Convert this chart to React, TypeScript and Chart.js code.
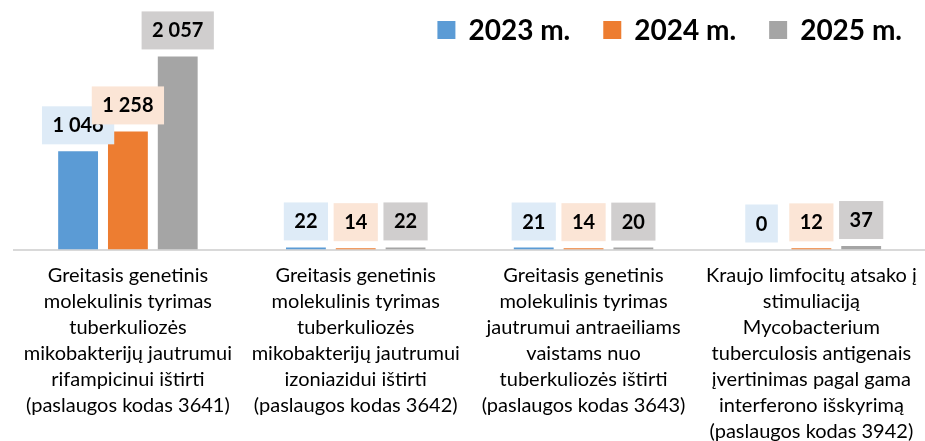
import React, { useEffect, useRef } from "react";
import { Chart, registerables } from "chart.js";

Chart.register(...registerables);

const categories: string[][] = [
  ["Greitasis genetinis", "molekulinis tyrimas", "tuberkuliozės", "mikobakterijų jautrumui", "rifampicinui ištirti", "(paslaugos kodas 3641)"],
  ["Greitasis genetinis", "molekulinis tyrimas", "tuberkuliozės", "mikobakterijų jautrumui", "izoniazidui ištirti", "(paslaugos kodas 3642)"],
  ["Greitasis genetinis", "molekulinis tyrimas", "jautrumui antraeiliams", "vaistams nuo", "tuberkuliozės ištirti", "(paslaugos kodas 3643)"],
  ["Kraujo limfocitų atsako į", "stimuliaciją", "Mycobacterium", "tuberculosis antigenais", "įvertinimas pagal gama", "interferono išskyrimą", "(paslaugos kodas 3942)"],
];

const seriesNames = ["2023 m.", "2024 m.", "2025 m."];
const values2023 = [1046, 22, 21, 0];
const values2024 = [1258, 14, 14, 12];
const values2025 = [2057, 22, 20, 37];

const barColors = ["#5B9BD5", "#ED7D31", "#A5A5A5"];
const labelBoxColors = ["#DEEBF7", "#FBE5D6", "#D0CECE"];

const FONT = "Lato, 'Open Sans', sans-serif";

function fmt(v: number): string {
  return String(v).replace(/\B(?=(\d{3})+(?!\d))/g, " ");
}

const labelPlugin = {
  id: "boxLabels",
  afterDatasetsDraw(chart: any) {
    const ctx = chart.ctx as CanvasRenderingContext2D;
    ctx.save();
    ctx.font = `bold 20px ${FONT}`;
    chart.data.datasets.forEach((ds: any, i: number) => {
      const meta = chart.getDatasetMeta(i);
      meta.data.forEach((el: any, j: number) => {
        const v = ds.data[j] as number;
        const txt = fmt(v);
        const tw = ctx.measureText(txt).width;
        const w = tw + 21;
        const h = 38;
        const bottom = el.y - 7;
        const top = bottom - h;
        ctx.fillStyle = labelBoxColors[i];
        ctx.fillRect(el.x - w / 2, top, w, h);
        ctx.fillStyle = "#000";
        ctx.textAlign = "center";
        ctx.textBaseline = "alphabetic";
        ctx.fillText(txt, el.x, top + h / 2 + 7);
      });
    });
    ctx.restore();
  },
};

const legendPlugin = {
  id: "customLegend",
  afterDraw(chart: any) {
    const ctx = chart.ctx as CanvasRenderingContext2D;
    ctx.save();
    ctx.font = `bold 28px ${FONT}`;
    const sq = 18;
    const gap = 13;
    const spacing = 33;
    const widths = seriesNames.map((n) => ctx.measureText(n).width);
    const total = widths.reduce((a, b) => a + b, 0) + seriesNames.length * (sq + gap) + spacing * (seriesNames.length - 1);
    let x = 902 - total;
    const cy = 30;
    seriesNames.forEach((n, i) => {
      ctx.fillStyle = barColors[i];
      ctx.fillRect(x, cy - sq / 2, sq, sq);
      x += sq + gap;
      ctx.fillStyle = "#000";
      ctx.textAlign = "left";
      ctx.textBaseline = "alphabetic";
      ctx.fillText(n, x, cy + 10);
      x += widths[i] + spacing;
    });
    ctx.restore();
  },
};

export default function App() {
  const ref = useRef<HTMLCanvasElement | null>(null);
  useEffect(() => {
    if (!ref.current) return;
    const chart = new Chart(ref.current, {
      type: "bar",
      data: {
        labels: categories,
        datasets: [values2023, values2024, values2025].map((d, i) => ({
          label: seriesNames[i],
          data: d,
          backgroundColor: barColors[i],
          categoryPercentage: 0.656,
          barPercentage: 0.8,
        })),
      },
      options: {
        responsive: false,
        animation: false,
        layout: { padding: { left: 14, right: 2, top: 43, bottom: 0 } },
        plugins: { legend: { display: false }, tooltip: { enabled: false } },
        scales: {
          x: {
            grid: { display: false, drawTicks: false },
            border: { display: true, color: "#D9D9D9", width: 2 },
            ticks: {
              autoSkip: false,
              maxRotation: 0,
              minRotation: 0,
              padding: 13,
              color: "#000",
              font: { family: FONT, size: 20, lineHeight: 26 / 20 },
            },
          },
          y: { display: false, min: 0, max: 2200 },
        },
      },
      plugins: [labelPlugin, legendPlugin],
    } as any);
    return () => chart.destroy();
  }, []);
  return (
    <div style={{ position: "fixed", left: 0, top: 0, width: 925, height: 441, overflow: "hidden", background: "#fff" }}>
      <canvas ref={ref} width={930} height={456} style={{ display: "block" }} />
    </div>
  );
}
